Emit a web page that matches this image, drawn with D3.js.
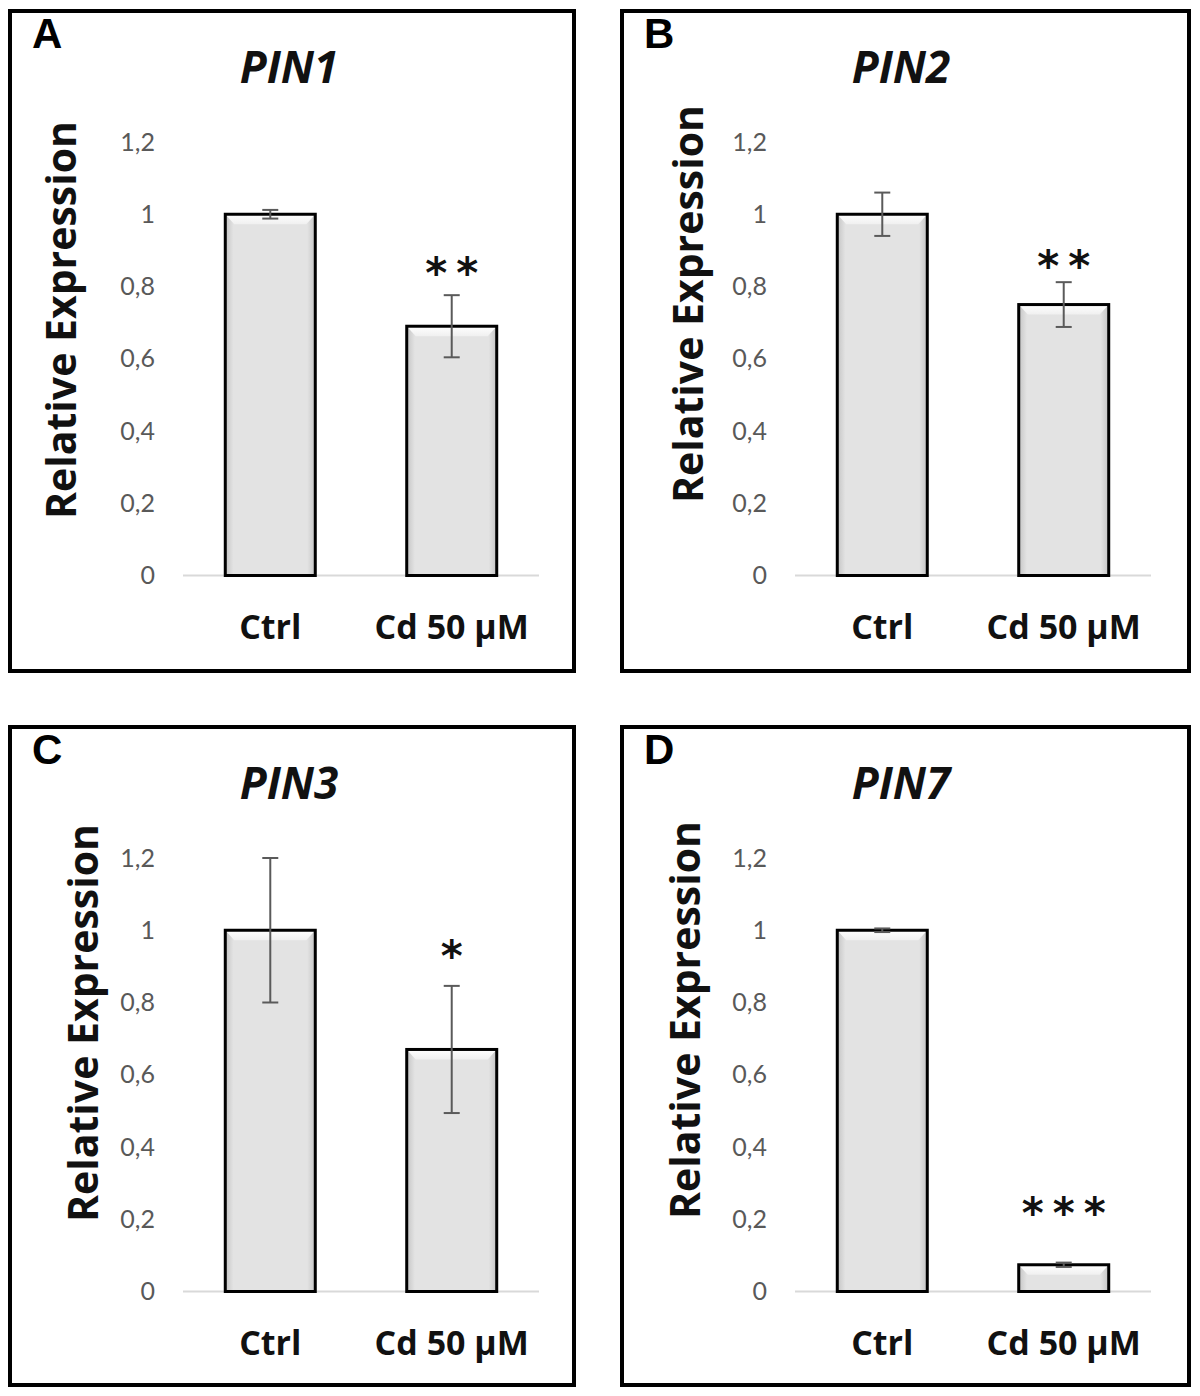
<!DOCTYPE html>
<html>
<head>
<meta charset="utf-8">
<script src="https://cdn.jsdelivr.net/npm/d3@7"></script>
<style>
  html, body { margin: 0; padding: 0; background: #fff; }
  svg { display: block; }
</style>
</head>
<body>
<div id="chart"></div>
<script>
// ---------------- DATA ----------------
const panelLetters = ["A", "B", "C", "D"];
const geneNames = ["PIN1", "PIN2", "PIN3", "PIN7"];
const categories = ["Ctrl", "Cd 50 µM"];
const ctrlMeans = [1.0, 1.0, 1.0, 1.0];
const ctrlErrors = [0.012, 0.06, 0.2, 0.005];
const cdMeans = [0.69, 0.75, 0.67, 0.074];
const cdErrors = [0.086, 0.062, 0.176, 0.006];
const significance = ["**", "**", "*", "***"];
const starLevels = [0.86, 0.88, 0.95, 0.24];
const yTickValues = [0, 0.2, 0.4, 0.6, 0.8, 1, 1.2];
const yTickLabels = ["0", "0,2", "0,4", "0,6", "0,8", "1", "1,2"];
const yAxisTitle = "Relative Expression";

// ---------------- LAYOUT ----------------
const W = 1200, H = 1396;
const panelBoxes = [
  { x: 10, y: 11, w: 564, h: 660, titleX: 66, titleY: 309 },
  { x: 622, y: 11, w: 567, h: 660, titleX: 81, titleY: 293 },
  { x: 10, y: 727, w: 564, h: 658, titleX: 88, titleY: 296 },
  { x: 622, y: 727, w: 567, h: 658, titleX: 78, titleY: 293 }
];

const svg = d3.select("#chart").append("svg")
  .attr("width", W).attr("height", H)
  .attr("viewBox", `0 0 ${W} ${H}`);

const defs = svg.append("defs");
const sideGrad = defs.append("linearGradient").attr("id", "barSide")
  .attr("x1", "0%").attr("x2", "100%").attr("y1", "0%").attr("y2", "0%");
[["0%", "#c4c4c4"], ["9%", "#e3e3e3"], ["91%", "#e3e3e3"], ["100%", "#c4c4c4"]]
  .forEach(([o, c]) => sideGrad.append("stop").attr("offset", o).attr("stop-color", c));
const topGrad = defs.append("linearGradient").attr("id", "barTop")
  .attr("x1", "0%").attr("x2", "0%").attr("y1", "0%").attr("y2", "100%");
[["0%", "#ffffff"], ["100%", "#f0f0f0"]]
  .forEach(([o, c]) => topGrad.append("stop").attr("offset", o).attr("stop-color", c));

const x = d3.scaleBand().domain(categories).range([173, 529])
  .paddingInner(0.504).paddingOuter(0.233);
const y = d3.scaleLinear().domain([0, 1.2]).range([564.5, 131]);

panelBoxes.forEach((box, i) => {
  const g = svg.append("g").attr("transform", `translate(${box.x},${box.y})`);

  g.append("rect").attr("x", 0).attr("y", 0).attr("width", box.w).attr("height", box.h)
    .attr("fill", "#fff").attr("stroke", "#000").attr("stroke-width", 4);

  g.append("text").attr("x", 22).attr("y", 37)
    .attr("font-family", "Liberation Sans, Arial, sans-serif")
    .attr("font-weight", "bold").attr("font-size", 42)
    .attr("fill", "#000").text(panelLetters[i]);

  g.append("text").attr("x", 279).attr("y", 72).attr("text-anchor", "middle")
    .attr("font-family", "Open Sans, sans-serif")
    .attr("font-weight", "bold").attr("font-style", "italic").attr("font-size", 44)
    .attr("fill", "#111").text(geneNames[i]);

  g.append("text")
    .attr("transform", `translate(${box.titleX},${box.titleY}) rotate(-90)`)
    .attr("text-anchor", "middle")
    .attr("font-family", "Open Sans, sans-serif")
    .attr("font-weight", "bold").attr("font-size", 41)
    .attr("fill", "#111").text(yAxisTitle);

  const yAxis = d3.axisLeft(y).tickValues(yTickValues)
    .tickFormat((d, k) => yTickLabels[k]).tickSize(0).tickPadding(0);
  const ya = g.append("g").attr("transform", "translate(145,0)").call(yAxis);
  ya.select(".domain").remove();
  ya.selectAll("text")
    .attr("font-family", "Lato, sans-serif").attr("font-size", 25)
    .attr("fill", "#595959");

  const xAxis = d3.axisBottom(x).tickSize(0).tickPadding(0);
  const xa = g.append("g").attr("transform", `translate(0,${y(0)})`).call(xAxis);
  xa.select(".domain").remove();
  xa.selectAll("text").attr("dy", null).attr("y", 63)
    .attr("font-family", "Open Sans, sans-serif").attr("font-weight", "bold")
    .attr("font-size", 34).attr("fill", "#111");
  g.append("line").attr("x1", x.range()[0]).attr("x2", x.range()[1])
    .attr("y1", y(0)).attr("y2", y(0))
    .attr("stroke", "#d9d9d9").attr("stroke-width", 2);

  const bars = [
    { cat: categories[0], mean: ctrlMeans[i], err: ctrlErrors[i] },
    { cat: categories[1], mean: cdMeans[i], err: cdErrors[i] }
  ];

  const bw = x.bandwidth();
  bars.forEach(b => {
    const x0 = x(b.cat), x1 = x0 + bw;
    const yt = y(b.mean), yb = y(0);
    const bg = g.append("g");
    bg.append("rect").attr("x", x0).attr("y", yt).attr("width", bw).attr("height", yb - yt)
      .attr("fill", "url(#barSide)");
    const bev = Math.min(10, (yb - yt) / 2);
    bg.append("path")
      .attr("d", `M${x0},${yt}L${x1},${yt}L${x1 - 9},${yt + bev}L${x0 + 9},${yt + bev}Z`)
      .attr("fill", "url(#barTop)");
    bg.append("rect").attr("x", x0).attr("y", yt).attr("width", bw).attr("height", yb - yt)
      .attr("fill", "none").attr("stroke", "#000").attr("stroke-width", 3);

    const cx = x0 + bw / 2;
    const eTop = y(b.mean + b.err), eBot = y(b.mean - b.err);
    bg.append("line").attr("x1", cx).attr("x2", cx).attr("y1", eTop).attr("y2", eBot)
      .attr("stroke", "#5a5a5a").attr("stroke-width", 2);
    [eTop, eBot].forEach(ey => {
      bg.append("line").attr("x1", cx - 8).attr("x2", cx + 8).attr("y1", ey).attr("y2", ey)
        .attr("stroke", "#5a5a5a").attr("stroke-width", 2);
    });
  });

  const sx = x(categories[1]) + bw / 2;
  const n = significance[i].length;
  const sy = y(starLevels[i]);
  for (let k = 0; k < n; k++) {
    g.append("text")
      .attr("x", sx + (k - (n - 1) / 2) * 31)
      .attr("y", sy + 23)
      .attr("text-anchor", "middle")
      .attr("font-family", "DejaVu Sans, sans-serif")
      .attr("font-weight", "bold")
      .attr("font-size", 42).attr("fill", "#111")
      .text("*");
  }
});
</script>
</body>
</html>
